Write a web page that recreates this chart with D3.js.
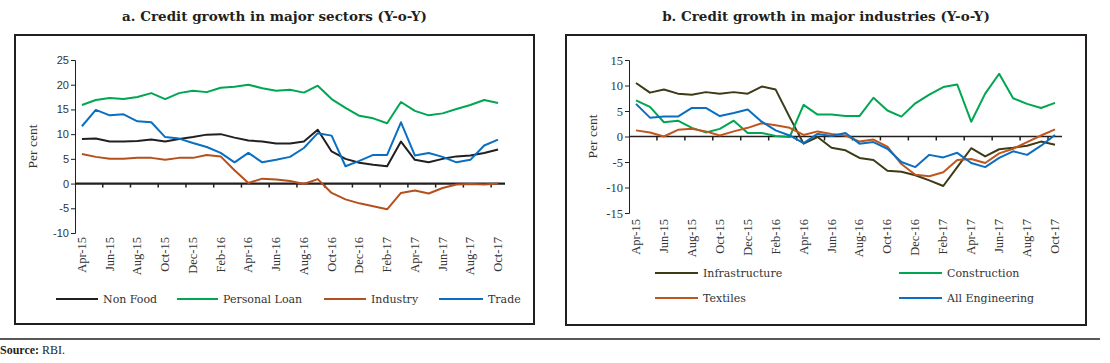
<!DOCTYPE html>
<html><head><meta charset="utf-8">
<script src="https://cdn.jsdelivr.net/npm/d3@7"></script>
<style>body{margin:0;background:#fff}svg{display:block}</style>
</head><body>
<svg id="c" width="1110" height="363"></svg>
<script>
const months = ["Apr-15","May-15","Jun-15","Jul-15","Aug-15","Sep-15","Oct-15","Nov-15","Dec-15","Jan-16","Feb-16","Mar-16","Apr-16","May-16","Jun-16","Jul-16","Aug-16","Sep-16","Oct-16","Nov-16","Dec-16","Jan-17","Feb-17","Mar-17","Apr-17","May-17","Jun-17","Jul-17","Aug-17","Sep-17","Oct-17"];
const tickLabels = months.filter((m,i)=>i%2===0);

// Panel a
const nonFood = [9.0,9.1,8.5,8.5,8.6,8.9,8.5,9.0,9.4,9.9,10.0,9.3,8.7,8.5,8.1,8.1,8.5,10.9,6.5,5.0,4.2,3.8,3.5,8.5,4.8,4.3,5.0,5.5,5.7,6.2,6.9];
const personalLoan = [15.9,16.9,17.3,17.1,17.5,18.3,17.1,18.3,18.8,18.5,19.4,19.6,20.0,19.3,18.8,19.0,18.4,19.8,17.1,15.3,13.7,13.2,12.2,16.5,14.7,13.8,14.2,15.1,15.9,16.9,16.3];
const industry = [6.0,5.4,5.0,5.0,5.2,5.2,4.8,5.2,5.2,5.8,5.5,2.7,0.1,1.0,0.8,0.5,-0.1,0.9,-1.9,-3.2,-4.0,-4.6,-5.2,-1.9,-1.4,-2.0,-0.9,-0.2,-0.1,-0.2,0.0];
const trade = [11.6,14.9,13.8,14.0,12.6,12.4,9.4,9.1,8.2,7.4,6.2,4.3,6.2,4.3,4.8,5.4,7.2,10.2,9.7,3.5,4.6,5.8,5.8,12.4,5.7,6.2,5.4,4.3,4.8,7.7,8.9];
const yTicksA = [-10,-5,0,5,10,15,20,25];

// Panel b
const infrastructure = [10.5,8.6,9.2,8.4,8.2,8.7,8.4,8.7,8.4,9.8,9.2,3.8,-1.4,-0.1,-2.2,-2.7,-4.2,-4.6,-6.7,-6.9,-7.6,-8.6,-9.7,-6.0,-2.3,-3.9,-2.5,-2.2,-1.8,-1.0,-1.6];
const construction = [7.1,5.8,2.8,3.1,1.7,0.8,1.5,3.1,0.7,0.7,0.1,-0.1,6.2,4.3,4.3,4.0,4.0,7.6,5.1,3.9,6.5,8.2,9.7,10.2,2.9,8.4,12.3,7.5,6.4,5.6,6.6];
const textiles = [1.2,0.8,0.0,1.3,1.5,1.0,0.2,1.0,1.7,2.6,2.2,1.7,0.3,1.0,0.5,0.2,-1.0,-0.6,-2.0,-5.4,-7.5,-7.8,-7.0,-4.6,-4.4,-5.2,-3.3,-2.4,-1.1,0.2,1.4];
const allEngineering = [6.4,3.7,3.9,3.9,5.6,5.6,4.0,4.6,5.3,2.9,1.2,0.2,-1.3,0.5,0.1,0.7,-1.4,-1.1,-2.4,-5.0,-6.0,-3.6,-4.1,-3.2,-5.2,-6.0,-4.2,-2.9,-3.6,-1.8,0.3];
const yTicksB = [-15,-10,-5,0,5,10,15];

const svg = d3.select("#c");
const serif = "'Liberation Serif','DejaVu Serif',serif";
const wide = "'DejaVu Serif','Liberation Serif',serif";
const sans = "'Liberation Sans','DejaVu Sans',sans-serif";

function panel(cfg){
  const g = svg.append("g");
  g.append("rect").attr("x",cfg.box[0]).attr("y",cfg.box[1]).attr("width",cfg.box[2]-cfg.box[0]).attr("height",cfg.box[3]-cfg.box[1])
    .attr("fill","none").attr("stroke","#231f20").attr("stroke-width",2);
  g.append("text").attr("x",(cfg.box[0]+cfg.box[2])/2).attr("y",21).attr("text-anchor","middle")
    .attr("font-family",wide).attr("font-weight","bold").attr("font-size",13.5).attr("fill","#231f20").text(cfg.title);
  const x = d3.scaleBand().domain(months).range(cfg.xr).padding(0);
  const y = d3.scaleLinear().domain(cfg.yd).range(cfg.yr);
  const bw = x.bandwidth();
  const cx = m => x(m)+bw/2;
  const ya = d3.axisLeft(y).tickValues(cfg.yTicks).tickSize(4).tickPadding(2).tickFormat(d=>d);
  const yg = g.append("g").attr("transform",`translate(${cfg.xr[0]},0)`).call(ya);
  yg.select(".domain").attr("stroke","#231f20");
  yg.selectAll(".tick line").attr("stroke","#231f20");
  yg.selectAll("text").attr("font-family",cfg.yFont).attr("font-size",cfg.yFontSize).attr("fill","#333");
  g.append("text").attr("transform",`translate(${cfg.ylabX},${(cfg.yr[0]+cfg.yr[1])/2}) rotate(-90)`).attr("text-anchor","middle")
    .attr("font-family",serif).attr("font-size",13.5).attr("fill","#333").text("Per cent");
  g.append("line").attr("x1",cfg.xr[0]).attr("x2",cfg.xr[1]).attr("y1",y(0)).attr("y2",y(0)).attr("stroke","#231f20").attr("stroke-width",cfg.zeroW);
  g.selectAll(".xt").data(months.filter((m,i)=>i%2===0 && i>0)).join("line")
    .attr("x1",d=>x(d)).attr("x2",d=>x(d)).attr("y1",y(0)).attr("y2",y(0)+4).attr("stroke","#231f20").attr("stroke-width",1.5);
  g.selectAll(".xl").data(tickLabels).join("text")
    .attr("transform",d=>`translate(${cx(d)+4},${cfg.labY}) rotate(-90)`).attr("text-anchor","end")
    .attr("font-family",serif).attr("font-size",12.5).attr("fill","#333").text(d=>d);
  const line = d3.line().x((d,i)=>cx(months[i])).y(d=>y(d));
  cfg.series.forEach(s=>{
    g.append("path").datum(s.values).attr("d",line).attr("fill","none").attr("stroke",s.color).attr("stroke-width",2).attr("stroke-linejoin","round");
  });
  cfg.series.forEach(s=>{
    g.append("line").attr("x1",s.lx[0]).attr("x2",s.lx[1]).attr("y1",s.ly).attr("y2",s.ly).attr("stroke",s.color).attr("stroke-width",2);
    g.append("text").attr("x",s.lx[1]+5).attr("y",s.ly+4).attr("font-family",wide).attr("font-size",11).attr("fill","#333").text(s.name);
  });
}

panel({
  box:[15,35,534,324], title:"a. Credit growth in major sectors (Y-o-Y)",
  xr:[75,505], yd:[-10,25], yr:[233,60], yTicks:yTicksA, yFont:sans, yFontSize:11, ylabX:37, zeroW:2.2, labY:237,
  series:[
    {name:"Non Food", values:nonFood, color:"#231f20", lx:[56,98], ly:299},
    {name:"Personal Loan", values:personalLoan, color:"#00a651", lx:[177,218], ly:299},
    {name:"Industry", values:industry, color:"#b5501c", lx:[324,366], ly:299},
    {name:"Trade", values:trade, color:"#0a6fc2", lx:[439,483], ly:299}
  ]
});
panel({
  box:[566,35,1086,325], title:"b. Credit growth in major industries (Y-o-Y)",
  xr:[629,1062], yd:[-15,15], yr:[213,60], yTicks:yTicksB, yFont:serif, yFontSize:12.5, ylabX:597, zeroW:1.5, labY:219,
  series:[
    {name:"Infrastructure", values:infrastructure, color:"#3d3a16", lx:[655,698], ly:273},
    {name:"Construction", values:construction, color:"#00a651", lx:[899,942], ly:273},
    {name:"Textiles", values:textiles, color:"#c0561d", lx:[655,698], ly:298},
    {name:"All Engineering", values:allEngineering, color:"#0a6fc2", lx:[899,942], ly:298}
  ]
});

svg.append("line").attr("x1",0).attr("x2",1100).attr("y1",339).attr("y2",339).attr("stroke","#231f20").attr("stroke-width",1.5);
const src = svg.append("text").attr("x",0).attr("y",354).attr("font-family",serif).attr("font-size",12).attr("fill","#231f20");
src.append("tspan").attr("font-weight","bold").text("Source: ");
src.append("tspan").text("RBI.");
</script>
</body></html>
